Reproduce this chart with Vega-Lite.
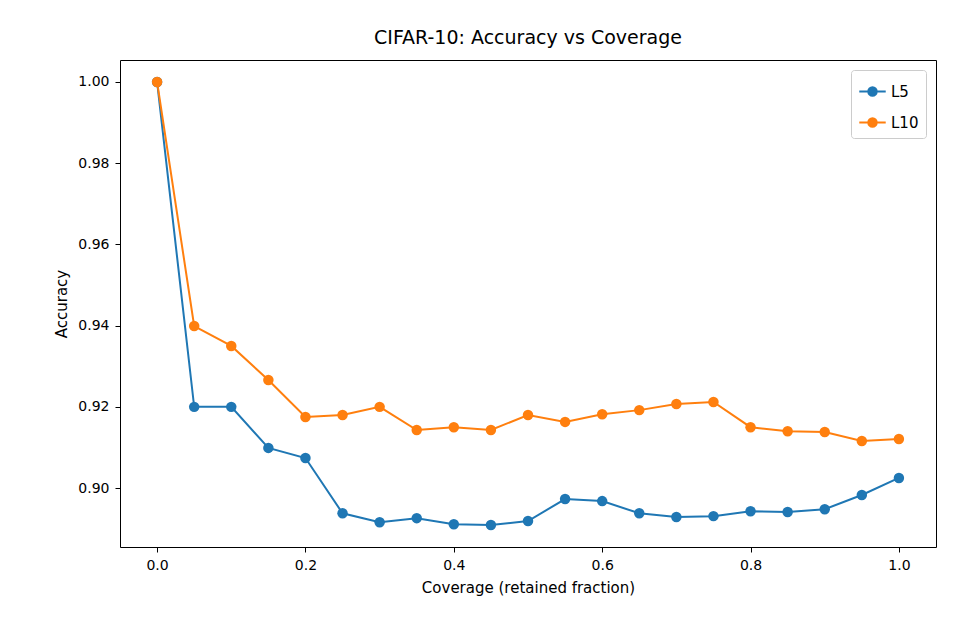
{
"$schema":"https://vega.github.io/schema/vega-lite/v6.json",
"width":816,"height":487,
"autosize":{"type":"none"},
"padding":{"left":120,"top":60,"right":24,"bottom":93},
"background":"white",
"title":{"text":"CIFAR-10: Accuracy vs Coverage","fontSize":19,"font":"DejaVu Sans","fontWeight":"normal","offset":12},
"config":{"font":"DejaVu Sans","view":{"stroke":"black","strokeWidth":1},"axis":{"grid":false,"domain":false,"tickColor":"black","labelColor":"black","labelFontSize":14,"titleFontSize":15,"titleFontWeight":"normal","tickSize":5,"labelPadding":6,"titlePadding":8}},
"data":{"values":[
{"c":0.0,"s":"L5","a":1.0},{"c":0.05,"s":"L5","a":0.920},{"c":0.1,"s":"L5","a":0.920},{"c":0.15,"s":"L5","a":0.9099},{"c":0.2,"s":"L5","a":0.9074},{"c":0.25,"s":"L5","a":0.8938},{"c":0.3,"s":"L5","a":0.8916},{"c":0.35,"s":"L5","a":0.8926},{"c":0.4,"s":"L5","a":0.8911},{"c":0.45,"s":"L5","a":0.8909},{"c":0.5,"s":"L5","a":0.8919},{"c":0.55,"s":"L5","a":0.8973},{"c":0.6,"s":"L5","a":0.8968},{"c":0.65,"s":"L5","a":0.8938},{"c":0.7,"s":"L5","a":0.8929},{"c":0.75,"s":"L5","a":0.8931},{"c":0.8,"s":"L5","a":0.8943},{"c":0.85,"s":"L5","a":0.8941},{"c":0.9,"s":"L5","a":0.8948},{"c":0.95,"s":"L5","a":0.8983},{"c":1.0,"s":"L5","a":0.9025},
{"c":0.0,"s":"L10","a":1.0},{"c":0.05,"s":"L10","a":0.9399},{"c":0.1,"s":"L10","a":0.935},{"c":0.15,"s":"L10","a":0.9266},{"c":0.2,"s":"L10","a":0.9175},{"c":0.25,"s":"L10","a":0.918},{"c":0.3,"s":"L10","a":0.920},{"c":0.35,"s":"L10","a":0.9143},{"c":0.4,"s":"L10","a":0.915},{"c":0.45,"s":"L10","a":0.9143},{"c":0.5,"s":"L10","a":0.918},{"c":0.55,"s":"L10","a":0.9163},{"c":0.6,"s":"L10","a":0.9182},{"c":0.65,"s":"L10","a":0.9192},{"c":0.7,"s":"L10","a":0.9207},{"c":0.75,"s":"L10","a":0.9212},{"c":0.8,"s":"L10","a":0.915},{"c":0.85,"s":"L10","a":0.914},{"c":0.9,"s":"L10","a":0.9138},{"c":0.95,"s":"L10","a":0.9116},{"c":1.0,"s":"L10","a":0.9121}
]},
"mark":{"type":"line","point":{"size":110,"filled":true,"opacity":1},"strokeWidth":2},
"encoding":{
"x":{"field":"c","type":"quantitative","title":"Coverage (retained fraction)","scale":{"domain":[-0.05,1.05],"nice":false},"axis":{"values":[0,0.2,0.4,0.6,0.8,1.0],"format":".1f"}},
"y":{"field":"a","type":"quantitative","title":"Accuracy","scale":{"domain":[0.8855,1.0054],"nice":false,"zero":false},"axis":{"values":[0.90,0.92,0.94,0.96,0.98,1.00],"format":".2f"}},
"color":{"field":"s","type":"nominal","sort":["L5","L10"],"scale":{"domain":["L5","L10"],"range":["#1f77b4","#ff7f0e"]},"legend":{"title":null,"orient":"top-right","labelFontSize":15,"symbolType":"M-1,0H1M0.32,0A0.32,0.32 0 1,1 -0.32,0A0.32,0.32 0 1,1 0.32,0","symbolSize":700,"symbolStrokeWidth":2,"strokeColor":"#cccccc","fillColor":"white","padding":7,"cornerRadius":3,"offset":10,"rowPadding":8,
"encode":{"symbols":{"update":{"fill":{"scale":"color","field":"value"},"fillOpacity":{"value":1}}}}}}
}
}
